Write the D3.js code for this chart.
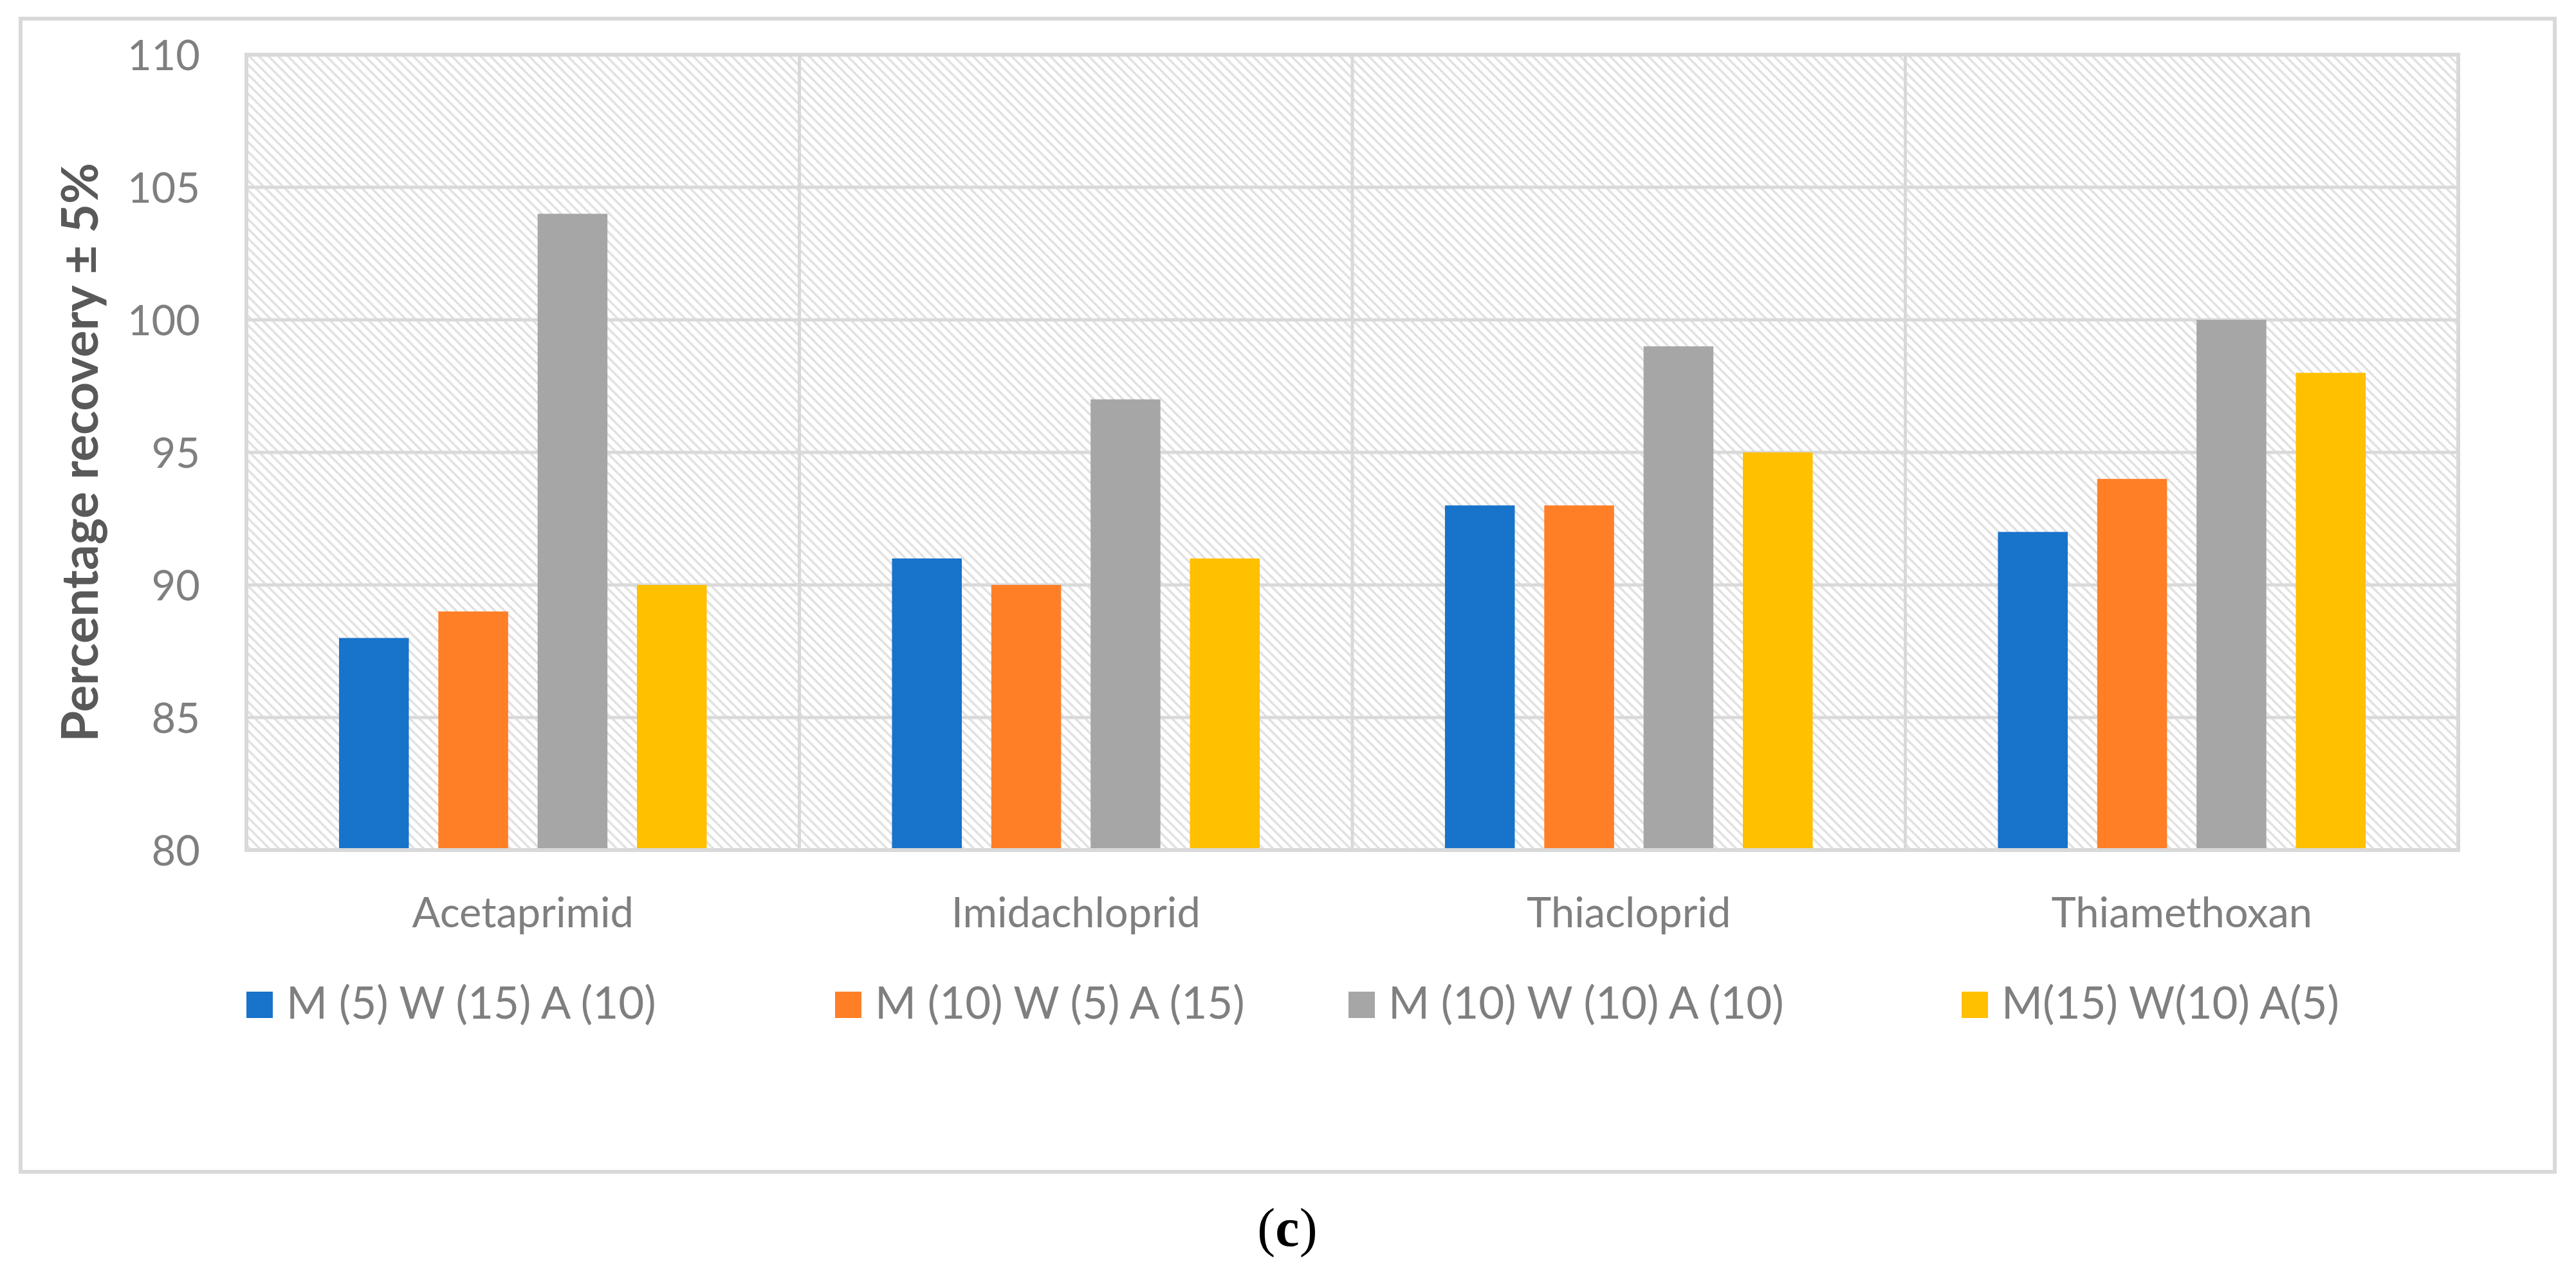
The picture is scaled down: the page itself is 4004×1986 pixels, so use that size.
<!DOCTYPE html>
<html>
<head>
<meta charset="utf-8">
<script src="https://cdn.jsdelivr.net/npm/d3@7/dist/d3.min.js"></script>
<style>
  html, body { margin: 0; padding: 0; background: #ffffff; }
  svg { display: block; }
</style>
</head>
<body>
<script>
// ---------- data ----------
const categories = ["Acetaprimid", "Imidachloprid", "Thiacloprid", "Thiamethoxan"];
const seriesNames = ["M (5) W (15) A (10)", "M (10) W (5) A (15)", "M (10) W (10) A (10)", "M(15) W(10) A(5)"];
const seriesColors = ["#1873CA", "#FF7F27", "#A6A6A6", "#FFC000"];
const s1 = [88, 91, 93, 92];
const s2 = [89, 90, 93, 94];
const s3 = [104, 97, 99, 100];
const s4 = [90, 91, 95, 98];
const seriesValues = [s1, s2, s3, s4];
const yTicks = [80, 85, 90, 95, 100, 105, 110];
const yTitle = "Percentage recovery \u00B1 5%";
const caption = "c";

// ---------- layout ----------
const W = 4004, H = 1986;
const plot = { left: 383, right: 3821, top: 85, bottom: 1321 };
const legendX = [383, 1298, 2096, 3049];
const legendY = 1562;
const font = "Lato, 'Open Sans', sans-serif";
const textGray = "#7F7F7F";
const gridGray = "#D9D9D9";

const svg = d3.select("body").append("svg")
  .attr("width", W).attr("height", H)
  .attr("viewBox", `0 0 ${W} ${H}`);

const defs = svg.append("defs");
const pat = defs.append("pattern")
  .attr("id", "hatch").attr("patternUnits", "userSpaceOnUse")
  .attr("width", 15).attr("height", 15);
pat.append("rect").attr("width", 15).attr("height", 15).attr("fill", "#ffffff");
pat.append("path")
  .attr("d", "M-3,-3 L18,18 M-3,12 L3,18 M12,-3 L18,3")
  .attr("stroke", "#E2E2E2").attr("stroke-width", 3.6);

// outer chart border
svg.append("rect")
  .attr("x", 32).attr("y", 29).attr("width", 3939).attr("height", 1792)
  .attr("fill", "#ffffff").attr("stroke", gridGray).attr("stroke-width", 6);

// scales
const y = d3.scaleLinear().domain([80, 110]).range([plot.bottom, plot.top]);
const x0 = d3.scaleBand().domain(categories).range([plot.left, plot.right]).padding(0);
const groupW = x0.bandwidth() * 0.665;
const groupOff = (x0.bandwidth() - groupW) / 2;
const x1 = d3.scaleBand().domain(d3.range(seriesNames.length)).range([0, groupW]).paddingInner(0.297).paddingOuter(0);

// plot area background
svg.append("rect")
  .attr("x", plot.left).attr("y", plot.top)
  .attr("width", plot.right - plot.left).attr("height", plot.bottom - plot.top)
  .attr("fill", "url(#hatch)");

// horizontal gridlines
const gridG = svg.append("g");
gridG.selectAll("line.h").data(yTicks.filter(t => t > 80 && t < 110)).join("line")
  .attr("x1", plot.left).attr("x2", plot.right)
  .attr("y1", d => y(d)).attr("y2", d => y(d))
  .attr("stroke", gridGray).attr("stroke-width", 5);
// vertical gridlines between categories
gridG.selectAll("line.v").data(categories.slice(1)).join("line")
  .attr("x1", d => x0(d)).attr("x2", d => x0(d))
  .attr("y1", plot.top).attr("y2", plot.bottom)
  .attr("stroke", gridGray).attr("stroke-width", 5);

// bars
const barG = svg.append("g");
categories.forEach((cat, ci) => {
  seriesValues.forEach((vals, si) => {
    barG.append("rect")
      .attr("x", x0(cat) + groupOff + x1(si))
      .attr("y", y(vals[ci]))
      .attr("width", x1.bandwidth())
      .attr("height", y(80) - y(vals[ci]))
      .attr("fill", seriesColors[si]);
  });
});

// plot border
svg.append("rect")
  .attr("x", plot.left).attr("y", plot.top)
  .attr("width", plot.right - plot.left).attr("height", plot.bottom - plot.top)
  .attr("fill", "none").attr("stroke", gridGray).attr("stroke-width", 6);

// y axis labels (via d3 axis)
const yAxis = d3.axisLeft(y).tickValues(yTicks).tickSize(0).tickPadding(0).tickFormat(d3.format("d"));
const yAxisG = svg.append("g").attr("transform", `translate(311,0)`).call(yAxis);
yAxisG.select(".domain").remove();
yAxisG.selectAll("text")
  .attr("font-family", font).attr("font-size", 65).attr("fill", textGray)
  .attr("dy", "0.36em");

// x axis labels
const xAxis = d3.axisBottom(x0).tickSize(0).tickPadding(0);
const xAxisG = svg.append("g").attr("transform", `translate(0,1441)`).call(xAxis);
xAxisG.select(".domain").remove();
xAxisG.selectAll("text")
  .attr("font-family", font).attr("font-size", 65).attr("fill", textGray)
  .attr("dy", 0);

// y title
svg.append("text")
  .attr("transform", `translate(152,${(plot.top + plot.bottom) / 2}) rotate(-90)`)
  .attr("text-anchor", "middle")
  .attr("font-family", font).attr("font-weight", 700).attr("font-size", 78)
  .attr("fill", "#595959")
  .text(yTitle);

// legend
const lg = svg.append("g");
seriesNames.forEach((name, i) => {
  const g = lg.append("g").attr("transform", `translate(${legendX[i]},${legendY})`);
  g.append("rect").attr("x", 0).attr("y", -21).attr("width", 41).attr("height", 41)
    .attr("fill", seriesColors[i]);
  g.append("text").attr("x", 62).attr("y", 21)
    .attr("font-family", font).attr("font-size", 69).attr("fill", textGray)
    .text(name);
});

// caption (c)
const cap = svg.append("text")
  .attr("x", 2001).attr("y", 1936).attr("text-anchor", "middle")
  .attr("font-family", "'Liberation Serif', 'Times New Roman', serif")
  .attr("font-size", 84).attr("fill", "#000000");
cap.append("tspan").text("(");
cap.append("tspan").attr("font-weight", 700).text(caption);
cap.append("tspan").text(")");
</script>
</body>
</html>
